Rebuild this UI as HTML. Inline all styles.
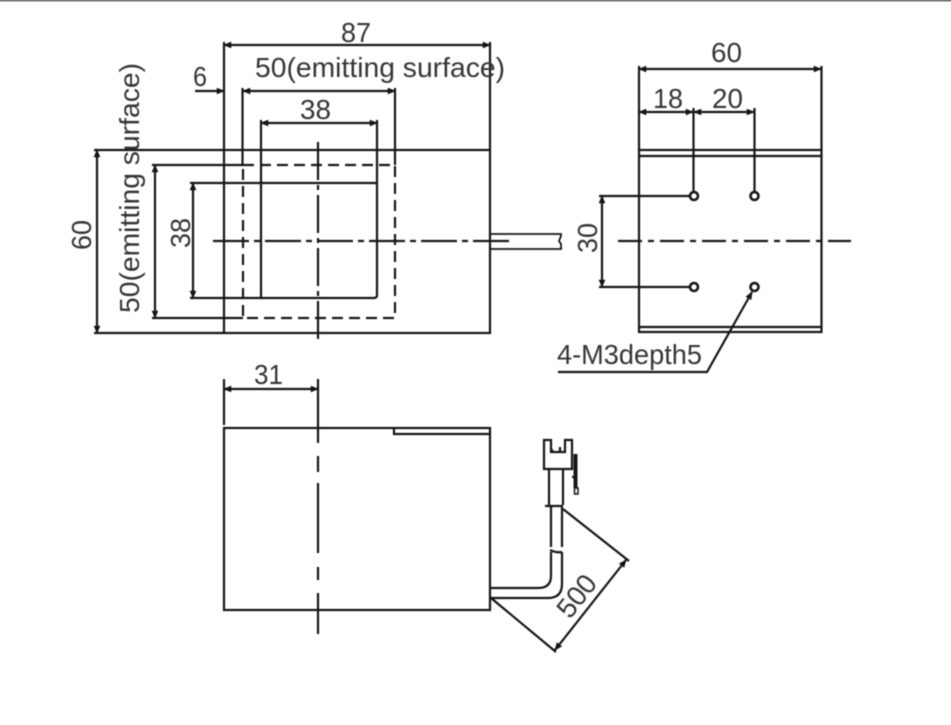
<!DOCTYPE html>
<html><head><meta charset="utf-8"><style>
html,body{margin:0;padding:0;background:#fff;width:951px;height:725px;overflow:hidden}
svg{display:block}
text{font-family:"Liberation Sans",sans-serif;font-size:28px;fill:#383434}
</style></head><body>
<svg width="951" height="725" viewBox="0 0 951 725" xmlns="http://www.w3.org/2000/svg">
<rect width="951" height="725" fill="#fff"/>
<rect width="951" height="1.5" fill="#777"/>
<defs><g id="ah"><path d="M0 0L7 -3V3Z" fill="#141414" stroke="#141414" stroke-width=".5"/></g></defs>
<g style="filter:blur(0.4px)">
<g fill="none" stroke="#161616" stroke-width="2.2">
<!-- front view -->
<rect x="224" y="150" width="266" height="183"/>
<path d="M224 42V150M490 42V150M224 45H490"/>
<path d="M195 91H224M242.500 88V165M395 88V165M242.500 91H395"/>
<path d="M261 120V298M377 120V183M261 123H377"/>
<path d="M94 150H224M94 333H224M97 150V333"/>
<path d="M152 165H243M152 318H243M155 165V318"/>
<path d="M190 183H377M190 298H374Q377 298 377 295V183M193 183V298"/>
<path d="M243 165H395V318H243Z" stroke-dasharray="11 6"/>
<path d="M318 142V343" stroke-dasharray="38 5 5 5"/>
<path d="M213 241H510" stroke-dasharray="36 5 6 5"/>
<path d="M490 234H561V236L559 241L561 244V249H490" stroke-width="1.800"/>
<!-- right view -->
<rect x="639" y="150" width="182.500" height="182"/>
<path d="M639 156H821M639 327H821"/>
<path d="M639 66V150M821.500 66V150M639 69H821.500"/>
<path d="M639 112H754M693.500 108V191M754.500 108V191"/>
<path d="M599 196H689M599 287H689M602 196V287"/>
<g stroke-width="2.600">
<circle cx="694" cy="196" r="4"/><circle cx="754.500" cy="196" r="4"/>
<circle cx="694" cy="287" r="4"/><circle cx="754.500" cy="287" r="4"/>
</g>
<path d="M618 241H851" stroke-dasharray="24 6 6 6"/>
<path d="M752 292L707 372H558"/>
<!-- side view -->
<rect x="224" y="428" width="266" height="182"/>
<path d="M394 428V434H490"/>
<path d="M224 379V425M224 389H318"/>
<path d="M318 379V443M318 456V472M318 483V553M318 567V580M318 593V634"/>
<!-- cable -->
<path d="M490 588H538Q551 588 551 576V552"/>
<path d="M490 598H548Q562 598 562 584V552"/>
<path d="M551 547V507M562 547V507"/>
<path d="M550 550Q556 553 562 552"/>
<path d="M545 506H563M549 505V469M563 505V469"/>
<path d="M544 440H551V452H565V440H572V469H544Z"/>
<path d="M560 447V452M552 449V452"/>
<path d="M572 477H575"/>
<path d="M575.500 454V488" stroke-width="4"/>
<path d="M574.500 488H578V494H574.500Z" stroke-width="1.500"/>
<!-- 500 dim -->
<path d="M563 509L629 561M491 598L556 652M626 560L555 650"/>
</g>
<!-- arrowheads -->
<use href="#ah" transform="translate(224,45)"/><use href="#ah" transform="translate(490,45) rotate(180)"/>
<use href="#ah" transform="translate(224,91) rotate(180)"/>
<use href="#ah" transform="translate(243,91)"/><use href="#ah" transform="translate(395,91) rotate(180)"/>
<use href="#ah" transform="translate(261,123)"/><use href="#ah" transform="translate(377,123) rotate(180)"/>
<use href="#ah" transform="translate(97,150) rotate(90)"/><use href="#ah" transform="translate(97,333) rotate(-90)"/>
<use href="#ah" transform="translate(155,165) rotate(90)"/><use href="#ah" transform="translate(155,318) rotate(-90)"/>
<use href="#ah" transform="translate(193,183) rotate(90)"/><use href="#ah" transform="translate(193,298) rotate(-90)"/>
<use href="#ah" transform="translate(639,69)"/><use href="#ah" transform="translate(821,69) rotate(180)"/>
<use href="#ah" transform="translate(639,112)"/><use href="#ah" transform="translate(693,112) rotate(180)"/>
<use href="#ah" transform="translate(694,112)"/><use href="#ah" transform="translate(754,112) rotate(180)"/>
<use href="#ah" transform="translate(602,196) rotate(90)"/><use href="#ah" transform="translate(602,287) rotate(-90)"/>
<use href="#ah" transform="translate(224,389)"/><use href="#ah" transform="translate(318,389) rotate(180)"/>
<use href="#ah" transform="translate(626,560) rotate(128)"/><use href="#ah" transform="translate(555,650) rotate(-52)"/>
<use href="#ah" transform="translate(752,292) rotate(119)"/>
<!-- labels -->
<text x="341" y="42" textLength="30" lengthAdjust="spacingAndGlyphs">87</text>
<text x="255" y="77" textLength="250" lengthAdjust="spacingAndGlyphs">50(emitting surface)</text>
<text x="193" y="86" textLength="14" lengthAdjust="spacingAndGlyphs">6</text>
<text x="300" y="119" textLength="31" lengthAdjust="spacingAndGlyphs">38</text>
<text x="711" y="62" textLength="31" lengthAdjust="spacingAndGlyphs">60</text>
<text x="653" y="108" textLength="30" lengthAdjust="spacingAndGlyphs">18</text>
<text x="712" y="108" textLength="31" lengthAdjust="spacingAndGlyphs">20</text>
<text x="254" y="384" textLength="29" lengthAdjust="spacingAndGlyphs">31</text>
<text x="557" y="364" textLength="145" lengthAdjust="spacingAndGlyphs">4-M3depth5</text>
<text transform="translate(91,250) rotate(-90)" textLength="30" lengthAdjust="spacingAndGlyphs">60</text>
<text transform="translate(139,313) rotate(-90)" textLength="250" lengthAdjust="spacingAndGlyphs">50(emitting surface)</text>
<text transform="translate(190,248) rotate(-90)" textLength="30" lengthAdjust="spacingAndGlyphs">38</text>
<text transform="translate(597,253) rotate(-90)" textLength="30" lengthAdjust="spacingAndGlyphs">30</text>
<text transform="translate(570,620) rotate(-52)" textLength="46" lengthAdjust="spacingAndGlyphs">500</text>
</g>
</svg>
</body></html>
